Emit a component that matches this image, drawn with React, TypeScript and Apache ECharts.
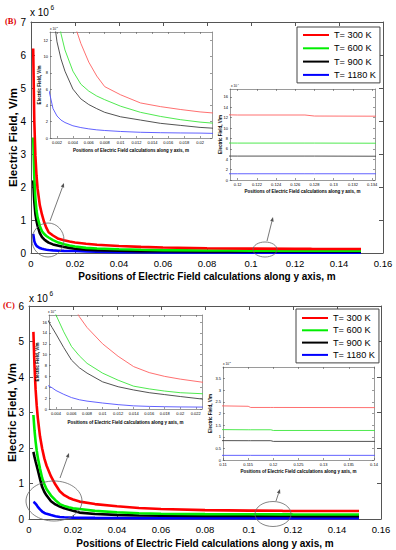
import React, { useEffect, useRef } from "react";
import * as echarts from "echarts";

// ---------- data (V/m, in units of 1e6) ----------
const xB = [0.001, 0.0015, 0.002, 0.0025, 0.003, 0.004, 0.005, 0.006, 0.007, 0.008, 0.01, 0.0125, 0.015, 0.0175, 0.02, 0.025, 0.03, 0.04, 0.05, 0.06, 0.08, 0.09, 0.1, 0.12, 0.127, 0.128, 0.15];
const red300B = [6.2, 4.0, 2.95, 2.35, 1.95, 1.45, 1.16, 0.93, 0.76, 0.63, 0.53, 0.43, 0.385, 0.35, 0.32, 0.28, 0.25, 0.21, 0.185, 0.165, 0.145, 0.138, 0.132, 0.125, 0.125, 0.123, 0.122];
const green600B = [3.5, 2.3, 1.65, 1.28, 1.08, 0.82, 0.66, 0.575, 0.515, 0.47, 0.39, 0.315, 0.265, 0.225, 0.195, 0.155, 0.135, 0.112, 0.097, 0.088, 0.078, 0.075, 0.073, 0.071, 0.071, 0.071, 0.07];
const black900B = [2.2, 1.55, 1.18, 0.97, 0.82, 0.6, 0.48, 0.41, 0.36, 0.315, 0.26, 0.22, 0.18, 0.155, 0.13, 0.1, 0.085, 0.068, 0.058, 0.053, 0.049, 0.048, 0.047, 0.046, 0.046, 0.046, 0.045];
const blue1180B = [0.58, 0.36, 0.27, 0.22, 0.19, 0.15, 0.128, 0.112, 0.1, 0.092, 0.08, 0.07, 0.065, 0.062, 0.06, 0.05, 0.04, 0.028, 0.021, 0.017, 0.014, 0.013, 0.012, 0.012, 0.012, 0.012, 0.012];

const xC = [0.002, 0.0025, 0.003, 0.0035, 0.004, 0.005, 0.006, 0.007, 0.008, 0.01, 0.012, 0.014, 0.016, 0.018, 0.02, 0.023, 0.03, 0.04, 0.05, 0.06, 0.08, 0.1, 0.115, 0.1155, 0.1195, 0.12, 0.15];
const red300C = [5.27, 4.3, 3.65, 3.2, 2.85, 2.33, 1.98, 1.7, 1.5, 1.2, 0.97, 0.78, 0.67, 0.6, 0.55, 0.49, 0.42, 0.36, 0.31, 0.28, 0.25, 0.236, 0.231, 0.226, 0.226, 0.226, 0.225];
const green600C = [2.93, 2.5, 2.18, 1.93, 1.73, 1.42, 1.15, 0.98, 0.84, 0.66, 0.53, 0.42, 0.37, 0.33, 0.3, 0.28, 0.23, 0.19, 0.16, 0.147, 0.137, 0.132, 0.13, 0.13, 0.13, 0.127, 0.127];
const black900C = [1.89, 1.75, 1.62, 1.5, 1.38, 1.13, 0.9, 0.76, 0.66, 0.5, 0.41, 0.35, 0.3, 0.265, 0.23, 0.18, 0.14, 0.115, 0.1, 0.092, 0.086, 0.084, 0.083, 0.083, 0.083, 0.08, 0.08];
const blue1180C = [0.48, 0.46, 0.43, 0.39, 0.34, 0.27, 0.21, 0.17, 0.145, 0.11, 0.08, 0.058, 0.048, 0.042, 0.038, 0.035, 0.031, 0.027, 0.024, 0.022, 0.021, 0.02, 0.02, 0.02, 0.02, 0.02, 0.02];

const seriesNames = ["T= 300 K", "T= 600 K", "T= 900 K", "T= 1180 K"];

// ---------- tick values ----------
const mainXTicks = [0, 0.02, 0.04, 0.06, 0.08, 0.1, 0.12, 0.14, 0.16];
const mainYTicksB = [0, 1, 2, 3, 4, 5, 6, 7];
const mainYTicksC = [0, 1, 2, 3, 4, 5, 6];
const insB1XTicks = [0.002, 0.004, 0.006, 0.008, 0.01, 0.012, 0.014, 0.016, 0.018, 0.02];
const insB1YTicks = [0, 0.2, 0.4, 0.6, 0.8, 1.0, 1.2];
const insB2XTicks = [0.12, 0.122, 0.124, 0.126, 0.128, 0.13, 0.132, 0.134];
const insB2YTicks = [0, 0.02, 0.04, 0.06, 0.08, 0.1, 0.12, 0.14, 0.16];
const insC1XTicks = [0.004, 0.006, 0.008, 0.01, 0.012, 0.014, 0.016, 0.018, 0.02, 0.022];
const insC1YTicks = [0, 0.2, 0.4, 0.6, 0.8, 1.0, 1.2, 1.4, 1.6];
const insC2XTicks = [0.11, 0.115, 0.12, 0.125, 0.13, 0.135, 0.14];
const insC2YTicks = [0, 0.05, 0.1, 0.15, 0.2, 0.25, 0.3, 0.35];

const FONT = "'Liberation Sans', Arial, Helvetica, sans-serif";
const mainColors = ["#ff0000", "#00ee00", "#000000", "#0000ff"];
const insetColors = ["#ff6060", "#3ce63c", "#404040", "#5050ff"];
const XT = "Positions of Electric Field calculations along y axis, m";
const YT = "Electric Field, V/m";

type G = {
  left: number; top: number; width: number; height: number;
  xMin: number; xMax: number; yMin: number; yMax: number;
  xTicks: number[]; yTicks: number[]; xScale: number; yScale: number;
  font: number; tick: number; xGap: number; yGap: number; nameFont: number; inset: boolean;
};

function fmt(v: number, s: number) {
  return String(parseFloat((v * s).toFixed(4)));
}

export default function App() {
  const ref = useRef<HTMLDivElement>(null);
  useEffect(() => {
    document.body.style.margin = "0";
    if (!ref.current) return;
    const chart = echarts.init(ref.current, undefined, { renderer: "svg" });

    const grids: G[] = [
      { left: 31, top: 22, width: 352, height: 231, xMin: 0, xMax: 0.16, yMin: 0, yMax: 7, xTicks: mainXTicks, yTicks: mainYTicksB, xScale: 1, yScale: 1, font: 9.5, tick: 4, xGap: 18, yGap: 12, nameFont: 10, inset: false },
      { left: 50, top: 32, width: 162, height: 106, xMin: 0.00112, xMax: 0.0215, yMin: 0, yMax: 1.3, xTicks: insB1XTicks, yTicks: insB1YTicks, xScale: 1, yScale: 10, font: 4, tick: 2, xGap: 9.5, yGap: 8, nameFont: 4.5, inset: true },
      { left: 230, top: 89, width: 145, height: 91, xMin: 0.1192, xMax: 0.1343, yMin: 0, yMax: 0.175, xTicks: insB2XTicks, yTicks: insB2YTicks, xScale: 1, yScale: 100, font: 4, tick: 2, xGap: 9, yGap: 7, nameFont: 4.5, inset: true },
      { left: 29, top: 306, width: 352, height: 213, xMin: 0, xMax: 0.16, yMin: 0, yMax: 6, xTicks: mainXTicks, yTicks: mainYTicksC, xScale: 1, yScale: 1, font: 9.5, tick: 4, xGap: 19, yGap: 11, nameFont: 10, inset: false },
      { left: 49, top: 315, width: 153, height: 94, xMin: 0.0031, xMax: 0.0228, yMin: 0, yMax: 1.73, xTicks: insC1XTicks, yTicks: insC1YTicks, xScale: 1, yScale: 10, font: 4, tick: 2, xGap: 10.5, yGap: 9, nameFont: 4.5, inset: true },
      { left: 223, top: 367, width: 151, height: 93, xMin: 0.11, xMax: 0.14, yMin: 0, yMax: 0.4, xTicks: insC2XTicks, yTicks: insC2YTicks, xScale: 1, yScale: 10, font: 4, tick: 2, xGap: 9, yGap: 10, nameFont: 4.5, inset: true },
    ];

    const lineCol = "#555";
    const grid: any[] = [];
    const xAxis: any[] = [];
    const yAxis: any[] = [];
    grids.forEach((g, i) => {
      grid.push({
        left: g.left, top: g.top, width: g.width, height: g.height,
        containLabel: false, outerBoundsMode: "none",
        show: g.inset, backgroundColor: "#fff", borderWidth: 0, z: g.inset ? 3 : 0,
      });
      const lw = g.inset ? 0.6 : 1;
      const az = g.inset ? 4 : 1;
      const common = (ticks: number[]) => ({
        axisLine: { show: true, onZero: false, lineStyle: { color: lineCol, width: lw } },
        axisTick: { show: true, inside: true, length: g.tick, customValues: ticks, lineStyle: { color: lineCol, width: lw } },
        splitLine: { show: false },
      });
      xAxis.push({
        type: "value", gridIndex: i, position: "bottom", min: g.xMin, max: g.xMax, z: az,
        ...common(g.xTicks),
        axisLabel: { show: true, customValues: g.xTicks, formatter: (v: number) => fmt(v, g.xScale), fontSize: g.font, color: "#000", margin: g.inset ? 2 : 5, fontFamily: FONT },
        name: XT, nameLocation: "middle", nameGap: g.xGap, nameMoveOverlap: false,
        nameTextStyle: { fontSize: g.nameFont, fontWeight: "bold", color: "#000", fontFamily: FONT },
      });
      xAxis.push({
        type: "value", gridIndex: i, position: "top", min: g.xMin, max: g.xMax, z: az,
        ...common(g.xTicks),
        axisLabel: { show: false },
      });
      yAxis.push({
        type: "value", gridIndex: i, position: "left", min: g.yMin, max: g.yMax, z: az,
        ...common(g.yTicks),
        axisLabel: { show: true, customValues: g.yTicks, formatter: (v: number) => fmt(v, g.yScale), fontSize: g.inset ? g.font : 10, color: "#000", margin: g.inset ? 2 : 5, fontFamily: FONT },
        name: YT, nameLocation: "middle", nameGap: g.yGap, nameRotate: 90, nameMoveOverlap: false,
        nameTextStyle: { fontSize: g.inset ? g.nameFont : 11.5, fontWeight: "bold", color: "#000", fontFamily: FONT },
      });
      yAxis.push({
        type: "value", gridIndex: i, position: "right", min: g.yMin, max: g.yMax, z: az,
        ...common(g.yTicks),
        axisLabel: { show: false },
      });
    });

    const series: any[] = [];
    const addPanel = (xs: number[], ys: number[][], gMain: number, gIns1: number, gIns2: number) => {
      ys.forEach((arr, k) => {
        const data = xs.map((x, j) => [x, arr[j]]);
        series.push({
          type: "line", name: seriesNames[k], xAxisIndex: 2 * gMain, yAxisIndex: 2 * gMain,
          data, showSymbol: false, symbol: "none", clip: true, z: 2 + (3 - k) * 0.01,
          lineStyle: { color: mainColors[k], width: 2.6 }, itemStyle: { color: mainColors[k] },
        });
        [gIns1, gIns2].forEach((gi) => {
          series.push({
            type: "line", name: seriesNames[k] + " (inset)", xAxisIndex: 2 * gi, yAxisIndex: 2 * gi,
            data, showSymbol: false, symbol: "none", clip: true, z: 5,
            lineStyle: { color: insetColors[k], width: 0.9 }, itemStyle: { color: insetColors[k] },
          });
        });
      });
    };
    addPanel(xB, [red300B, green600B, black900B, blue1180B], 0, 1, 2);
    addPanel(xC, [red300C, green600C, black900C, blue1180C], 3, 4, 5);

    const legendBase = {
      orient: "vertical", icon: "rect", itemWidth: 26, itemHeight: 2,
      data: seriesNames, selectedMode: false,
      textStyle: { fontSize: 9.2, fontFamily: FONT, color: "#000", lineHeight: 12 },
      borderColor: "#444", borderWidth: 1, backgroundColor: "#fff", z: 6,
    };
    const legend = [
      { ...legendBase, left: 297, top: 27, padding: [2, 4, 2, 6], itemGap: 1.3 },
      { ...legendBase, left: 296, top: 309, padding: [3, 4, 2, 6], itemGap: 0.3 },
    ];

    const gray = "#555";
    const arrow = (x1: number, y1: number, x2: number, y2: number) => {
      const dx = x2 - x1, dy = y2 - y1;
      const L = Math.sqrt(dx * dx + dy * dy);
      const ux = dx / L, uy = dy / L;
      const hl = 4.5, hw = 1.8;
      const bx = x2 - ux * hl, by = y2 - uy * hl;
      return [
        { type: "line", z: 10, shape: { x1, y1, x2: bx, y2: by }, style: { stroke: gray, lineWidth: 0.8 } },
        { type: "polygon", z: 10, shape: { points: [[x2, y2], [bx - uy * hw, by + ux * hw], [bx + uy * hw, by - ux * hw]] }, style: { fill: gray } },
      ];
    };
    const ell = (cx: number, cy: number, rx: number, ry: number) => ({
      type: "ellipse", z: 10, shape: { cx, cy, rx, ry }, style: { stroke: "#666", fill: "none", lineWidth: 0.8 },
    });
    const txt = (x: number, y: number, text: string, size: number, extra: any = {}) => ({
      type: "text", x, y, z: 10,
      style: { text, fontSize: size, fontFamily: FONT, fill: "#000", verticalAlign: "middle", ...extra },
    });

    const graphic: any[] = [
      txt(5, 20.5, "(B)", 8.5, { fill: "#e00000", fontWeight: "bold", fontFamily: "'Liberation Serif', 'Times New Roman', serif" }),
      txt(3, 305, "(C)", 8.5, { fill: "#e00000", fontWeight: "bold", fontFamily: "'Liberation Serif', 'Times New Roman', serif" }),
      txt(30, 12.5, "x 10", 10),
      txt(50.5, 7, "6", 6.5),
      txt(29, 298.5, "x 10", 10),
      txt(49.5, 293, "6", 6.5),
      txt(50, 28.5, "x 10", 3.2),
      txt(56.5, 27, "5", 2.4),
      txt(231, 86, "x 10", 3.2),
      txt(237.5, 84.5, "4", 2.4),
      txt(48, 312, "x 10", 3.2),
      txt(54.5, 310.5, "5", 2.4),
      txt(223, 364, "x 10", 3.2),
      txt(229.5, 362.5, "5", 2.4),
      ell(48, 240, 16, 17),
      ...arrow(50, 221, 64, 183),
      ell(265, 249.5, 12, 7.5),
      ...arrow(267, 241, 273, 217),
      ell(54, 501, 28, 20),
      ...arrow(60, 478, 69, 453),
      ell(273, 514, 18, 12.5),
      ...arrow(276, 501, 280, 489),
    ];

    chart.setOption({
      animation: false,
      backgroundColor: "#fff",
      grid, xAxis, yAxis, series, legend, graphic,
    });
    return () => chart.dispose();
  }, []);
  return <div ref={ref} style={{ width: 396, height: 550 }} />;
}
